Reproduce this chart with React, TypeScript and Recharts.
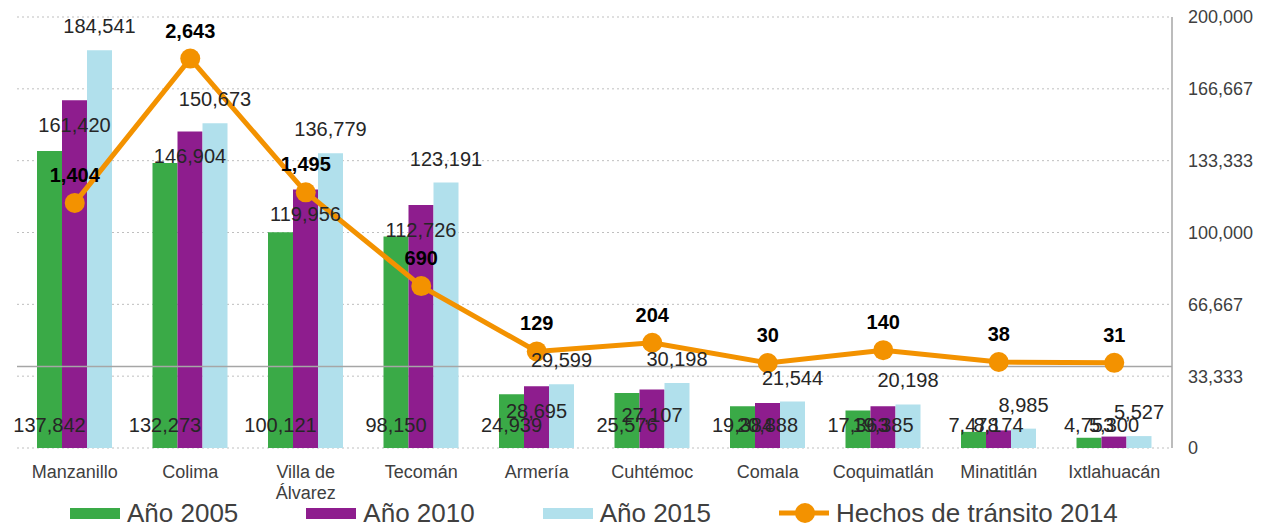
import { type ReactElement } from 'react';

import {
  Bar,
  CartesianGrid,
  ComposedChart,
  LabelList,
  Line,
  ReferenceLine,
  XAxis,
  YAxis,
} from 'recharts';

const municipios = [
  'Manzanillo',
  'Colima',
  'Villa de Álvarez',
  'Tecomán',
  'Armería',
  'Cuhtémoc',
  'Comala',
  'Coquimatlán',
  'Minatitlán',
  'Ixtlahuacán',
];

const pob2005 = [137842, 132273, 100121, 98150, 24939, 25576, 19384, 17363, 7478, 4753];
const pob2010 = [161420, 146904, 119956, 112726, 28695, 27107, 20888, 19385, 8174, 5300];
const pob2015 = [184541, 150673, 136779, 123191, 29599, 30198, 21544, 20198, 8985, 5527];
const hechos2014 = [1404, 2643, 1495, 690, 129, 204, 30, 140, 38, 31];

const rightTicks = [0, 33333, 66667, 100000, 133333, 166667, 200000];

const GREEN = '#3AAA47';
const PURPLE = '#8E1D8E';
const BLUE = '#B1E0EC';
const ORANGE = '#F39200';
const FONT = '"Liberation Sans", Arial, sans-serif';

const data = municipios.map((name, i) => ({
  name,
  a2005: pob2005[i],
  a2010: pob2010[i],
  a2015: pob2015[i],
  hechos: hechos2014[i],
}));

const fmt = (v: number) => Math.round(v).toLocaleString('en-US');

type LabelProps = { x?: number; y?: number; width?: number; height?: number; value?: number };

const labelText = (x: number, y: number, value: number, bold = false) => (
  <text
    x={x}
    y={y}
    textAnchor="middle"
    dominantBaseline="central"
    fontFamily={FONT}
    fontSize={20}
    fontWeight={bold ? 700 : 400}
    fill={bold ? '#000' : '#262626'}
  >
    {fmt(value)}
  </text>
);

// 2005: inside base, 2010: inside end (never below the base slot), 2015: outside end
const baseLabel = ({ x = 0, y = 0, width = 0, height = 0, value = 0 }: LabelProps) =>
  labelText(x + width / 2, y + height - 23, value);
const insideEndLabel = ({ x = 0, y = 0, width = 0, height = 0, value = 0 }: LabelProps) =>
  labelText(x + width / 2, Math.min(y + 25, y + height - 23), value);
const outsideEndLabel = ({ x = 0, y = 0, width = 0, value = 0 }: LabelProps) =>
  labelText(x + width / 2, y - 24, value);
const lineLabel = ({ x = 0, y = 0, value = 0 }: LabelProps) => labelText(x, y - 28, value, true);

function CategoryTick({ x = 0, y = 0, payload }: { x?: number; y?: number; payload?: { value: string } }) {
  const label = payload?.value ?? '';
  const lines = label === 'Villa de Álvarez' ? ['Villa de', 'Álvarez'] : [label];
  return (
    <text x={x} y={y} textAnchor="middle" fontFamily={FONT} fontSize={18} fill="#404040">
      {lines.map((ln, i) => (
        <tspan key={ln} x={x} dy={i === 0 ? 22 : 21}>
          {ln}
        </tspan>
      ))}
    </text>
  );
}

const legendItems = [
  { label: 'Año 2005', color: GREEN, line: false },
  { label: 'Año 2010', color: PURPLE, line: false },
  { label: 'Año 2015', color: BLUE, line: false },
  { label: 'Hechos de tránsito 2014', color: ORANGE, line: true },
];

export default function App(): ReactElement {
  return (
    <div style={{ position: 'relative', width: 1268, height: 527, background: '#fff' }}>
      <style>{'body{margin:0}'}</style>
      <ComposedChart
        width={1268}
        height={527}
        data={data}
        margin={{ top: 17, right: 0, bottom: 43, left: 17 }}
        barGap={0}
        barSize={25}
      >
        <CartesianGrid
          yAxisId="r"
          vertical={false}
          stroke="#BFBFBF"
          strokeDasharray="2 3"
        />
        <XAxis
          dataKey="name"
          axisLine={false}
          tickLine={false}
          height={36}
          interval={0}
          tick={<CategoryTick />}
        />
        <YAxis yAxisId="l" hide domain={[-700, 3000]} />
        <YAxis
          yAxisId="r"
          orientation="right"
          domain={[0, 200000]}
          ticks={rightTicks}
          tickFormatter={fmt}
          width={96}
          axisLine={{ stroke: '#A6A6A6', strokeWidth: 1.5 }}
          tickLine={false}
          tickSize={0}
          tickMargin={16}
          tick={{ fontFamily: FONT, fontSize: 18, fill: '#404040', textAnchor: 'start' }}
        />
        <ReferenceLine yAxisId="l" y={0} stroke="#A6A6A6" strokeWidth={1.5} />
        <Bar yAxisId="r" dataKey="a2005" fill={GREEN} isAnimationActive={false}>
          <LabelList dataKey="a2005" content={baseLabel} />
        </Bar>
        <Bar yAxisId="r" dataKey="a2010" fill={PURPLE} isAnimationActive={false}>
          <LabelList dataKey="a2010" content={insideEndLabel} />
        </Bar>
        <Bar yAxisId="r" dataKey="a2015" fill={BLUE} isAnimationActive={false}>
          <LabelList dataKey="a2015" content={outsideEndLabel} />
        </Bar>
        <Line
          yAxisId="l"
          dataKey="hechos"
          stroke={ORANGE}
          strokeWidth={5}
          dot={{ r: 10, fill: ORANGE, stroke: ORANGE, strokeWidth: 0 }}
          activeDot={false}
          isAnimationActive={false}
        >
          <LabelList dataKey="hechos" content={lineLabel} />
        </Line>
      </ComposedChart>
      <div
        style={{
          position: 'absolute',
          left: 70,
          top: 497,
          display: 'flex',
          alignItems: 'center',
          gap: 68,
          fontFamily: FONT,
          fontSize: 26,
          color: '#404040',
          height: 32,
        }}
      >
        {legendItems.map((item) => (
          <div key={item.label} style={{ display: 'flex', alignItems: 'center', gap: 7 }}>
            {item.line ? (
              <svg width={50} height={22}>
                <line x1={0} y1={11} x2={50} y2={11} stroke={item.color} strokeWidth={5} />
                <circle cx={26} cy={11} r={10} fill={item.color} />
              </svg>
            ) : (
              <div style={{ width: 50, height: 11, background: item.color }} />
            )}
            <span style={{ lineHeight: '32px' }}>{item.label}</span>
          </div>
        ))}
      </div>
    </div>
  );
}
